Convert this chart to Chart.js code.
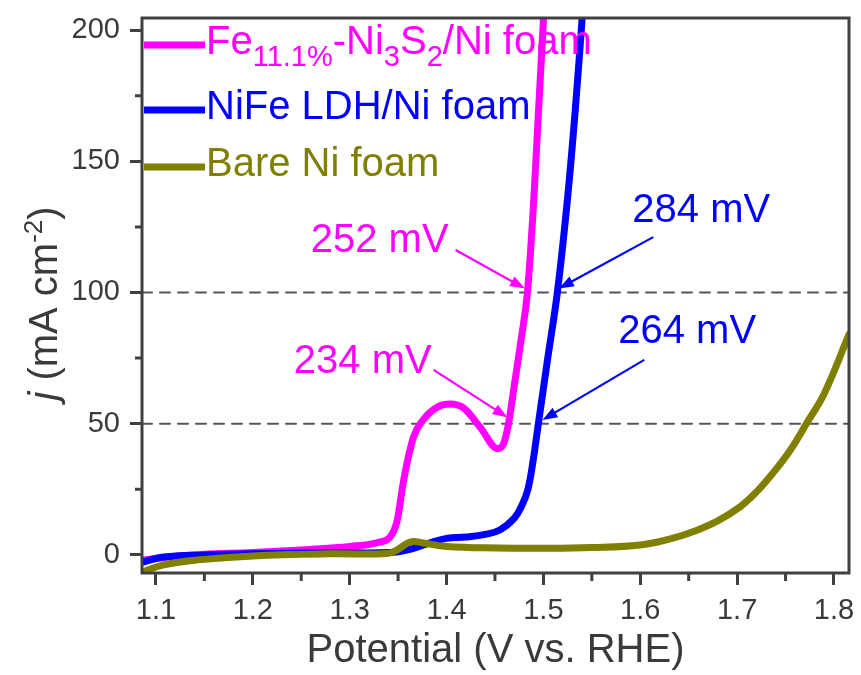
<!DOCTYPE html>
<html>
<head>
<meta charset="utf-8">
<script src="https://cdn.jsdelivr.net/npm/chart.js@4/dist/chart.umd.min.js"></script>
<style>
  html, body { margin: 0; padding: 0; background: #fff; }
</style>
</head>
<body>
<canvas id="lsv" width="861" height="675"></canvas>
<script>
// LSV curves, potential (V vs. RHE) -> j (mA cm-2)
const feV  = [1.0866, 1.12, 1.15, 1.2, 1.25, 1.3, 1.33, 1.342, 1.349, 1.356, 1.366, 1.376, 1.391, 1.404, 1.4175, 1.435, 1.4526, 1.459, 1.464, 1.4705, 1.477, 1.4835, 1.4897, 1.4948, 1.5005];
const feJ  = [-2.0, -0.5, 0.2, 0.9, 1.9, 3.2, 4.8, 6.9, 13, 29, 45, 51.5, 56.4, 57.5, 56, 48.5, 40.5, 42.5, 50, 66, 82, 100, 133, 168, 207];

const ldhV = [1.0866, 1.108, 1.15, 1.2, 1.28, 1.342, 1.36, 1.383, 1.40, 1.42, 1.44, 1.455, 1.47, 1.478, 1.484, 1.489, 1.4948, 1.5045, 1.5144, 1.5247, 1.533, 1.5405];
const ldhJ = [-2.7, -0.8, 0, 0.4, 0.8, 0.9, 1.9, 4.6, 6.3, 6.8, 7.8, 9.5, 14, 19, 25, 35, 50, 75, 100, 135, 170, 207];

const niV  = [1.0866, 1.108, 1.143, 1.2, 1.28, 1.339, 1.349, 1.363, 1.376, 1.40, 1.4526, 1.5, 1.55, 1.6, 1.63, 1.6515, 1.68, 1.703, 1.72, 1.737, 1.755, 1.772, 1.79, 1.8155];
const niJ  = [-6.5, -3.8, -1.9, -0.4, 0.4, 0.5, 1.9, 5, 4.5, 3.2, 2.6, 2.5, 2.8, 3.8, 6, 8.4, 13, 18.3, 24, 31.2, 40, 50.3, 61.5, 84];

const xTicks = [1.1, 1.2, 1.3, 1.4, 1.5, 1.6, 1.7, 1.8];
const xMinor = [1.15, 1.25, 1.35, 1.45, 1.55, 1.65, 1.75];
const yTicks = [0, 50, 100, 150, 200];
const yMinor = [25, 75, 125, 175];
const refLevels = [50, 100];

const MAG = '#ff00ff', BLUE = '#0000ff', OLIVE = '#808000';
const AXIS = '#404040', TEXT = '#3a3a3a';
const FONT = '"Liberation Sans", Arial, sans-serif';

const X_MIN = 1.0856, X_MAX = 1.8155, Y_MIN = -6.9, Y_MAX = 204.6;

// overpotential callouts (text anchor, arrow tail, arrow tip in data units)
const notes = [
  { text: '252 mV', color: MAG,  at: [1.2598, 115.4], from: [1.4093, 116.2], to: [1.4810, 101.5] },
  { text: '234 mV', color: MAG,  at: [1.2423, 69.3],  from: [1.3866, 70.5],  to: [1.4630, 52.4] },
  { text: '284 mV', color: BLUE, at: [1.5918, 126.9], from: [1.6134, 121.1], to: [1.5160, 101.5] },
  { text: '264 mV', color: BLUE, at: [1.5773, 80.8],  from: [1.6041, 74.3],  to: [1.4990, 51.4] }
];

// legend entries as rich text runs: [text, size, baseline shift]
const legendItems = [
  { color: MAG, runs: [['Fe', 40, 0], ['11.1%', 29, 12], ['-Ni', 40, 0], ['3', 29, 12], ['S', 40, 0], ['2', 29, 12], ['/Ni foam', 40, 0]] },
  { color: BLUE, runs: [['NiFe LDH/Ni foam', 40, 0]] },
  { color: OLIVE, runs: [['Bare Ni foam', 40, 0]] }
];

function pts(xs, ys) { return xs.map((x, i) => ({ x: x, y: ys[i] })); }

function richWidth(ctx, runs) {
  let w = 0;
  for (const r of runs) { ctx.font = (r[3] ? 'italic ' : '') + r[1] + 'px ' + FONT; w += ctx.measureText(r[0]).width; }
  return w;
}
function drawRich(ctx, runs, x, y) {
  for (const r of runs) {
    ctx.font = (r[3] ? 'italic ' : '') + r[1] + 'px ' + FONT;
    ctx.fillText(r[0], x, y + r[2]);
    x += ctx.measureText(r[0]).width;
  }
}
function arrow(ctx, x1, y1, x2, y2, color) {
  const ang = Math.atan2(y2 - y1, x2 - x1), len = 15, half = 5.5;
  const bx = x2 - len * Math.cos(ang), by = y2 - len * Math.sin(ang);
  ctx.strokeStyle = color; ctx.fillStyle = color; ctx.lineWidth = 2.2;
  ctx.beginPath(); ctx.moveTo(x1, y1); ctx.lineTo(bx + 3 * Math.cos(ang), by + 3 * Math.sin(ang)); ctx.stroke();
  ctx.beginPath();
  ctx.moveTo(x2, y2);
  ctx.lineTo(bx + half * Math.sin(ang), by - half * Math.cos(ang));
  ctx.lineTo(bx - half * Math.sin(ang), by + half * Math.cos(ang));
  ctx.closePath(); ctx.fill();
}

const decor = {
  id: 'decor',
  afterDraw(chart) {
    const { ctx, chartArea: a, scales: { x, y } } = chart;
    ctx.save();
    // frame
    ctx.strokeStyle = AXIS; ctx.lineWidth = 3;
    ctx.strokeRect(a.left, a.top, a.right - a.left, a.bottom - a.top);
    // minor ticks
    ctx.beginPath();
    xMinor.forEach(v => { const px = x.getPixelForValue(v); ctx.moveTo(px, a.bottom); ctx.lineTo(px, a.bottom + 8); });
    yMinor.forEach(v => { const py = y.getPixelForValue(v); ctx.moveTo(a.left, py); ctx.lineTo(a.left - 7, py); });
    ctx.stroke();

    // callouts
    ctx.textBaseline = 'alphabetic'; ctx.textAlign = 'left';
    notes.forEach(n => {
      ctx.fillStyle = n.color;
      ctx.font = '40px ' + FONT;
      ctx.fillText(n.text, x.getPixelForValue(n.at[0]), y.getPixelForValue(n.at[1]));
      arrow(ctx, x.getPixelForValue(n.from[0]), y.getPixelForValue(n.from[1]),
        x.getPixelForValue(n.to[0]), y.getPixelForValue(n.to[1]), n.color);
    });

    // legend
    const rows = [27, 92, 149];
    legendItems.forEach((it, i) => {
      const ly = a.top + rows[i];
      ctx.strokeStyle = it.color; ctx.lineWidth = 7;
      ctx.beginPath(); ctx.moveTo(a.left + 2, ly); ctx.lineTo(a.left + 63, ly); ctx.stroke();
      ctx.fillStyle = it.color;
      drawRich(ctx, it.runs, a.left + 64, ly + 9);
    });

    // axis titles
    ctx.fillStyle = TEXT;
    ctx.font = '40px ' + FONT;
    ctx.textAlign = 'center';
    ctx.fillText('Potential (V vs. RHE)', (a.left + a.right) / 2, 662);
    ctx.textAlign = 'left';
    const yRuns = [['j', 40, 0, true], [' (mA cm', 40, 0], ['-2', 26, -15], [')', 40, 0]];
    ctx.translate(57, (a.top + a.bottom) / 2 + 8);
    ctx.rotate(-Math.PI / 2);
    drawRich(ctx, yRuns, -richWidth(ctx, yRuns) / 2, 0);
    ctx.restore();
  }
};

const tickFont = { family: FONT, size: 29 };
const smooth = { cubicInterpolationMode: 'default', tension: 0.4 };

new Chart(document.getElementById('lsv'), {
  type: 'line',
  data: {
    datasets: [
      { label: 'Bare Ni foam', data: pts(niV, niJ), borderColor: OLIVE, order: 0, ...smooth },
      { label: 'NiFe LDH/Ni foam', data: pts(ldhV, ldhJ), borderColor: BLUE, order: 1, ...smooth },
      { label: 'Fe11.1%-Ni3S2/Ni foam', data: pts(feV, feJ), borderColor: MAG, order: 2 },
      ...refLevels.map(v => ({
        label: v + ' mA cm-2', data: [{ x: X_MIN, y: v }, { x: X_MAX, y: v }],
        borderColor: '#555', borderWidth: 2, borderDash: [10, 8], order: 3, cubicInterpolationMode: 'default', tension: 0
      }))
    ]
  },
  options: {
    responsive: false,
    devicePixelRatio: 1,
    animation: false,
    layout: { padding: { left: 0, right: 12, top: 18, bottom: 0 } },
    elements: {
      line: { borderWidth: 7, cubicInterpolationMode: 'monotone', borderCapStyle: 'round', borderJoinStyle: 'round' },
      point: { radius: 0 }
    },
    plugins: { legend: { display: false }, tooltip: { enabled: false } },
    scales: {
      x: {
        type: 'linear', min: X_MIN, max: X_MAX,
        afterBuildTicks: s => { s.ticks = xTicks.map(v => ({ value: v })); },
        afterFit: s => { s.height = 102; s.paddingLeft = 0; s.paddingRight = 0; },
        border: { display: false },
        grid: { display: true, drawOnChartArea: false, drawTicks: true, tickLength: 12, tickWidth: 3, tickColor: AXIS },
        ticks: { font: tickFont, color: TEXT, padding: 9, maxRotation: 0, autoSkip: false, callback: v => v.toFixed(1) }
      },
      y: {
        type: 'linear', min: Y_MIN, max: Y_MAX,
        afterBuildTicks: s => { s.ticks = yTicks.map(v => ({ value: v })); },
        afterFit: s => { s.width = 142; s.paddingTop = 0; s.paddingBottom = 0; },
        border: { display: false },
        grid: { display: true, drawOnChartArea: false, drawTicks: true, tickLength: 12, tickWidth: 3, tickColor: AXIS },
        ticks: { font: tickFont, color: TEXT, padding: 10, autoSkip: false, callback: v => String(v) }
      }
    }
  },
  plugins: [decor]
});
</script>
</body>
</html>
